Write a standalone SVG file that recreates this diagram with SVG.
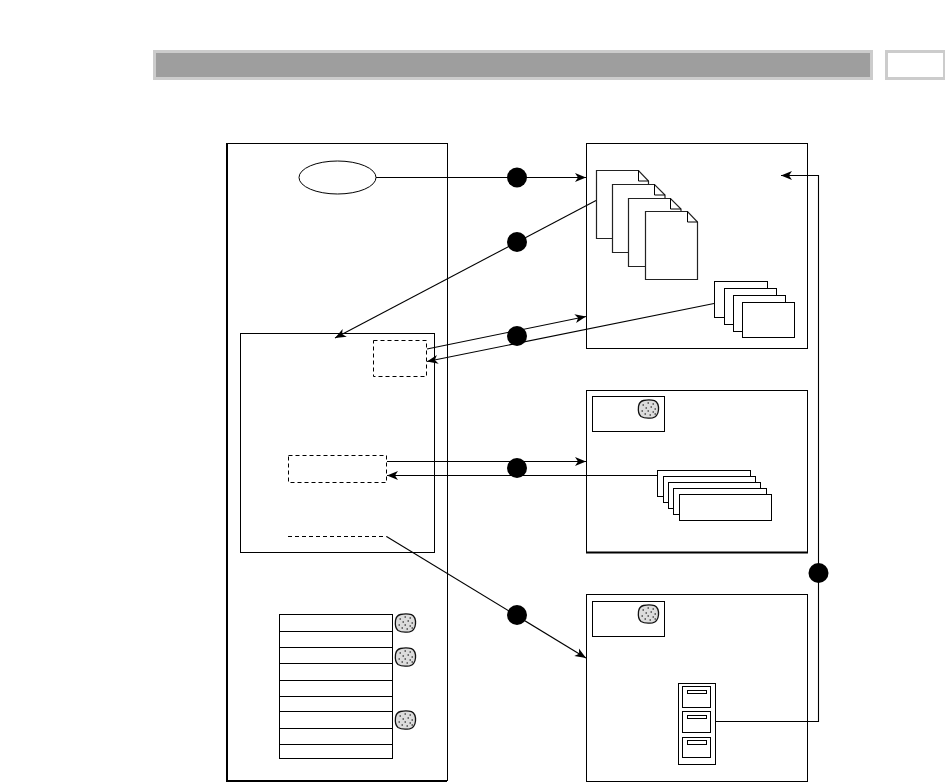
<svg xmlns="http://www.w3.org/2000/svg" width="945" height="782" viewBox="0 0 945 782">
<style>
.b{fill:#fff;stroke:#000;stroke-width:1}
.n{fill:none;stroke:#000;stroke-width:1}
.h{fill:none;stroke:#000;stroke-width:2}
.d{fill:#fff;stroke:#000;stroke-width:1;stroke-dasharray:4 3}
.g{fill:#fff;stroke:#222;stroke-width:1.200}
.c{fill:none;stroke:#000;stroke-width:1.100}
.a{marker-end:url(#arrow)}
.dot{fill:#000}
</style>
<defs>
<marker id="arrow" markerUnits="userSpaceOnUse" markerWidth="14" markerHeight="12" refX="12" refY="5" orient="auto">
<path d="M12,5 L1,0.5 L4,5 L1,9.500 Z" fill="#000"/>
</marker>
<g id="blob">
<path d="M-5,-8.500 C-1,-9.300 3,-9.200 6,-8.300 C9,-6.800 10.300,-3 10,1 C9.600,5 8,8 4,8.800 C0,9.400 -5,9 -7.500,7.500 C-10,5.500 -10.400,1 -10,-2.500 C-9.500,-5.800 -8,-7.800 -5,-8.500 Z" fill="#dcdcdc" stroke="#111" stroke-width="1.300"/>
<path d="M-6,-4h1.500M-1,-6h1.500M4,-5h1.500M-3,-1h1.500M2,-2h1.500M6,0h1.500M-7,2h1.500M-1,2h1.500M4,3h1.500M-4,5h1.500M1,6h1.500M6,5h1.500" stroke="#000" stroke-width="1.200" fill="none"/>
</g>
</defs>

<g id="header">
<rect x="154.500" y="51.500" width="717" height="27" fill="#9e9e9e" stroke="#ccc" stroke-width="3"/>
<rect x="886.500" y="51.500" width="58" height="27" fill="#fff" stroke="#ccc" stroke-width="3"/>
</g>

<g id="left-panel">
<rect class="b" x="227.500" y="143.500" width="220" height="637"/>
<path class="h" d="M227,143V781H447"/>
</g>
<g id="inner-panel"><rect class="b" x="240.500" y="333.500" width="194" height="219"/></g>
<g id="panel-top"><rect class="b" x="586.500" y="143.500" width="221" height="205"/></g>
<g id="panel-middle">
<rect class="b" x="586.500" y="390.500" width="221" height="162"/>
<path class="h" d="M586,552.500H808"/>
</g>
<g id="panel-bottom"><rect class="b" x="586.500" y="594.500" width="221" height="187"/></g>

<g id="connectors">
<path class="c a" d="M376,177.500H586"/>
<path class="c a" d="M596,200.500L335,338"/>
<path class="c a" d="M427,349L586,316.500"/>
<path class="c a" d="M714,303.500L427,361.500"/>
<path class="c a" d="M387,461.500H586"/>
<path class="c a" d="M657,475.500H387"/>
<path class="c a" d="M386.500,536.500L586,658"/>
<path class="c a" d="M716,721.500H818.500V175.500H781"/>
</g>

<g id="oval"><ellipse class="b" cx="337.500" cy="177.500" rx="38.500" ry="16.500"/></g>

<g id="dashed-a"><rect class="d" x="373.500" y="340.500" width="53" height="36"/></g>
<g id="dashed-b"><rect class="d" x="288.500" y="455.500" width="98" height="27"/></g>
<g id="dashed-c"><path class="d" d="M288,536.500H386.500"/></g>

<g id="documents">
<path class="g" d="M596.500,170.500H638.500L648.500,181V238.500H596.500Z"/><path class="n" d="M638.500,170.500V181H648.500"/>
<path class="g" d="M612.500,184.500H654.500L665,195V252.500H612.500Z"/><path class="n" d="M654.500,184.500V195H665"/>
<path class="g" d="M628.500,198.500H670.500L681,209V266.500H628.500Z"/><path class="n" d="M670.500,198.500V209H681"/>
<path class="g" d="M645.500,211.500H687.500L697.500,222V279.500H645.500Z"/><path class="n" d="M687.500,211.500V222H697.500"/>
</g>

<g id="cards-top">
<rect class="b" x="714.500" y="281.500" width="53" height="36"/>
<rect class="b" x="724.500" y="288.500" width="52" height="36"/>
<rect class="b" x="733.500" y="295.500" width="52" height="36"/>
<rect class="b" x="742.500" y="302.500" width="52" height="35"/>
</g>

<g id="label-middle"><rect class="b" x="592.500" y="396.500" width="72" height="35"/><use href="#blob" x="648.500" y="409"/></g>
<g id="cards-middle">
<rect class="b" x="657.500" y="470.500" width="93" height="26"/>
<rect class="b" x="663.500" y="476.500" width="92" height="26"/>
<rect class="b" x="668.500" y="482.500" width="92" height="26"/>
<rect class="b" x="673.500" y="488.500" width="93" height="26"/>
<rect class="b" x="679.500" y="494.500" width="92" height="26"/>
</g>

<g id="label-bottom"><rect class="b" x="592.500" y="601.500" width="72" height="35"/><use href="#blob" x="648.500" y="614"/></g>
<g id="cabinet">
<rect class="b" x="678.500" y="683.500" width="37" height="81"/>
<rect class="b" x="682.500" y="686.500" width="28" height="21"/>
<rect class="b" x="682.500" y="711.500" width="28" height="21"/>
<rect class="b" x="682.500" y="737.500" width="28" height="20"/>
<rect class="b" x="687.500" y="690.500" width="19" height="3"/>
<rect class="b" x="687.500" y="715.500" width="19" height="3"/>
<rect class="b" x="687.500" y="740.500" width="19" height="4"/>
</g>

<g id="table">
<rect class="b" x="279.500" y="614.500" width="113" height="144"/>
<path class="n" d="M279,631.500H392M279,647.500H392M279,663.500H392M279,680.500H392M279,696.500H392M279,711.500H392M279,728.500H392M279,744.500H392"/>
</g>
<g id="blob-1"><use href="#blob" x="405.500" y="623"/></g>
<g id="blob-2"><use href="#blob" x="405.500" y="657"/></g>
<g id="blob-3"><use href="#blob" x="405.500" y="720"/></g>

<g id="dot-1"><circle class="dot" cx="517" cy="177.500" r="10"/></g>
<g id="dot-2"><circle class="dot" cx="517" cy="242" r="10"/></g>
<g id="dot-3"><circle class="dot" cx="517" cy="336" r="10"/></g>
<g id="dot-4"><circle class="dot" cx="517" cy="468" r="10"/></g>
<g id="dot-5"><circle class="dot" cx="517" cy="615" r="10"/></g>
<g id="dot-6"><circle class="dot" cx="818.500" cy="573" r="10"/></g>
</svg>
